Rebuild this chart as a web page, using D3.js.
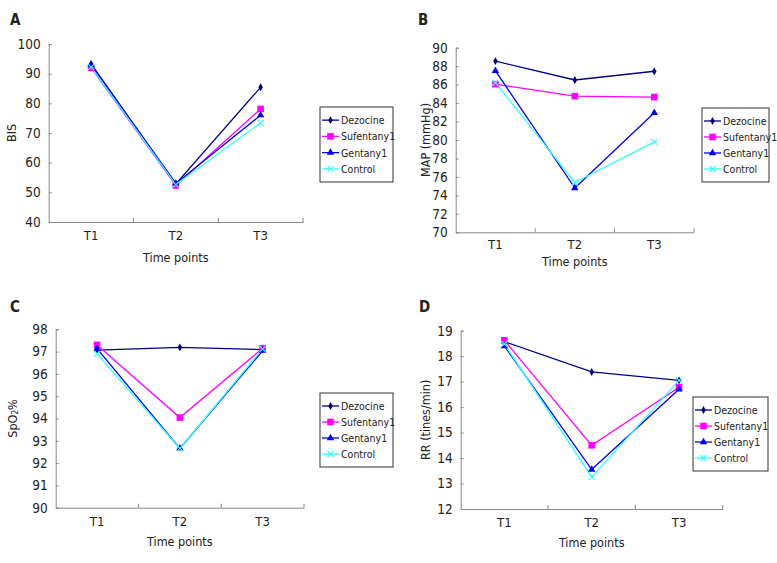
<!DOCTYPE html>
<html>
<head>
<meta charset="utf-8">
<script src="https://cdn.jsdelivr.net/npm/d3@7"></script>
<style>
  html, body { margin: 0; padding: 0; background: #fff; }
  svg { display: block; }
  text { font-family: "DejaVu Sans Condensed", "DejaVu Sans", sans-serif; fill: #222; }
</style>
</head>
<body>
<div id="chart"></div>
<script>
/* ── Data ─────────────────────────────────────────────────── */
const timePoints = ['T1', 'T2', 'T3'];
const groups = ['Dezocine', 'Sufentany1', 'Gentany1', 'Control'];

// A: BIS
const bisDezocine   = [93.3, 52.8, 85.4];
const bisSufentanyl = [92.0, 52.3, 78.1];
const bisGentanyl   = [93.0, 53.0, 76.0];
const bisControl    = [92.2, 52.6, 73.4];
const bisTicks      = [40, 50, 60, 70, 80, 90, 100];

// B: MAP (mmHg)
const mapDezocine   = [88.55, 86.5, 87.45];
const mapSufentanyl = [86.05, 84.75, 84.65];
const mapGentanyl   = [87.5, 74.8, 82.95];
const mapControl    = [86.2, 75.4, 79.8];
const mapTicks      = [70, 72, 74, 76, 78, 80, 82, 84, 86, 88, 90];

// C: SpO2 %
const spoDezocine   = [97.07, 97.19, 97.09];
const spoSufentanyl = [97.3, 94.04, 97.15];
const spoGentanyl   = [97.13, 92.66, 97.04];
const spoControl    = [96.9, 92.66, 97.12];
const spoTicks      = [90, 91, 92, 93, 94, 95, 96, 97, 98];

// D: RR (tines/min)
const rrDezocine    = [18.57, 17.38, 17.05];
const rrSufentanyl  = [18.62, 14.5, 16.78];
const rrGentanyl    = [18.4, 13.55, 16.7];
const rrControl     = [18.48, 13.25, 17.05];
const rrTicks       = [12, 13, 14, 15, 16, 17, 18, 19];

/* ── Styles per group ─────────────────────────────────────── */
const colors = ['#000080', '#ff00ff', '#0000ee', '#33ffff'];
const shapes = ['diamond', 'square', 'triangle', 'cross'];

const W = 777, H = 563;
const svg = d3.select('#chart').append('svg')
  .attr('width', W).attr('height', H);

const panels = [
  { letter: 'A', lx: 10, ly: 25, ylabel: 'BIS', ylx: 11,
    box: { l: 48.7, t: 44, r: 303, b: 222 }, domain: [40, 100], ticks: bisTicks,
    series: [bisDezocine, bisSufentanyl, bisGentanyl, bisControl],
    tickDy: 16, titleDy: 40, legend: { x: 320, y: 107, w: 73, h: 75 } },
  { letter: 'B', lx: 418, ly: 25, ylabel: 'MAP (mmHg)', ylx: 425,
    box: { l: 455.7, t: 47.7, r: 694, b: 232.3 }, domain: [70, 90], ticks: mapTicks,
    series: [mapDezocine, mapSufentanyl, mapGentanyl, mapControl],
    tickDy: 14, titleDy: 34, legend: { x: 702, y: 108, w: 67, h: 74 } },
  { letter: 'C', lx: 10, ly: 312, ylabel: 'SpO2%', ylx: 12,
    box: { l: 55.7, t: 329.3, r: 304, b: 507.7 }, domain: [90, 98], ticks: spoTicks,
    series: [spoDezocine, spoSufentanyl, spoGentanyl, spoControl],
    tickDy: 16, titleDy: 38, legend: { x: 320, y: 393, w: 73, h: 74 } },
  { letter: 'D', lx: 419, ly: 312, ylabel: 'RR (tines/min)', ylx: 425,
    box: { l: 460.7, t: 330.7, r: 722.7, b: 509 }, domain: [12, 19], ticks: rrTicks,
    series: [rrDezocine, rrSufentanyl, rrGentanyl, rrControl],
    tickDy: 16, titleDy: 38, legend: { x: 693, y: 397, w: 75, h: 74 } },
];

function marker(sel, shape, color) {
  if (shape === 'diamond') {
    sel.append('path').attr('d', d3.symbol(d3.symbolDiamond, 18)())
      .attr('fill', color);
  } else if (shape === 'square') {
    sel.append('rect').attr('x', -3.3).attr('y', -3.3)
      .attr('width', 6.6).attr('height', 6.6).attr('fill', color);
  } else if (shape === 'triangle') {
    sel.append('path').attr('d', d3.symbol(d3.symbolTriangle, 24)())
      .attr('fill', color);
  } else {
    sel.append('path').attr('d', 'M-3,-3L3,3M-3,3L3,-3')
      .attr('stroke', color).attr('stroke-width', 1.2).attr('fill', 'none');
  }
}

panels.forEach(p => {
  const { l, t, r, b } = p.box;
  const x = d3.scaleBand().domain(timePoints).range([l, r]);
  const y = d3.scaleLinear().domain(p.domain).range([b, t]);
  const g = svg.append('g');

  // panel letter
  g.append('text').attr('x', p.lx).attr('y', p.ly)
    .attr('font-family', '"Liberation Sans", Arial, sans-serif')
    .attr('font-weight', 'bold').attr('font-size', 15).text(p.letter);

  // y axis (ticks point inward)
  const yAx = g.append('g').attr('transform', `translate(${l},0)`)
    .call(d3.axisLeft(y).tickValues(p.ticks).tickFormat(d3.format('d'))
      .tickSize(-3).tickPadding(8));
  yAx.select('.domain').attr('stroke', '#888');
  yAx.selectAll('.tick line').attr('stroke', '#888');
  yAx.selectAll('.tick text').attr('font-size', 13.5).attr('fill', '#222')
    .attr('font-family', '"DejaVu Sans Condensed", "DejaVu Sans", sans-serif');

  // x axis: labels centred on bands, ticks at band boundaries
  const xAx = g.append('g').attr('transform', `translate(0,${b})`)
    .call(d3.axisBottom(x).tickSize(0).tickPadding(p.tickDy - 7));
  xAx.select('.domain').attr('stroke', '#888');
  xAx.selectAll('.tick text').attr('font-size', 13).attr('fill', '#222')
    .attr('font-family', '"DejaVu Sans Condensed", "DejaVu Sans", sans-serif');
  g.selectAll('.xb').data(timePoints).join('line')
    .attr('x1', d => x(d) + x.bandwidth()).attr('x2', d => x(d) + x.bandwidth())
    .attr('y1', b).attr('y2', b - 4).attr('stroke', '#888');

  // axis titles
  g.append('text').attr('x', (l + r) / 2).attr('y', b + p.titleDy)
    .attr('text-anchor', 'middle').attr('font-size', 12.5).text('Time points');

  const yl = g.append('text')
    .attr('transform', `translate(${p.ylx},${(t + b) / 2}) rotate(-90)`)
    .attr('text-anchor', 'middle').attr('dominant-baseline', 'central')
    .attr('font-size', 12.5);
  if (p.ylabel === 'SpO2%') {
    yl.append('tspan').text('SpO');
    yl.append('tspan').attr('font-size', 8).attr('dy', 3).text('2');
    yl.append('tspan').attr('dy', -3).text('%');
  } else {
    yl.text(p.ylabel);
  }

  // series lines + markers
  const line = d3.line()
    .x((d, i) => x(timePoints[i]) + x.bandwidth() / 2)
    .y(d => y(d));

  p.series.forEach((vals, si) => {
    g.append('path').datum(vals)
      .attr('d', line).attr('fill', 'none')
      .attr('stroke', colors[si]).attr('stroke-width', 1.3);
  });
  p.series.forEach((vals, si) => {
    vals.forEach((v, i) => {
      const m = g.append('g')
        .attr('transform', `translate(${x(timePoints[i]) + x.bandwidth() / 2},${y(v)})`);
      marker(m, shapes[si], colors[si]);
    });
  });

  // legend
  const L = p.legend;
  const lg = g.append('g').attr('transform', `translate(${L.x},${L.y})`);
  lg.append('rect').attr('width', L.w).attr('height', L.h)
    .attr('fill', '#fff').attr('stroke', '#333').attr('stroke-width', 1);
  const rowH = (L.h - 10) / groups.length;
  groups.forEach((name, i) => {
    const ry = 5 + rowH * (i + 0.5);
    lg.append('line').attr('x1', 2).attr('x2', 19).attr('y1', ry).attr('y2', ry)
      .attr('stroke', colors[i]).attr('stroke-width', 1.3);
    marker(lg.append('g').attr('transform', `translate(10.5,${ry})`), shapes[i], colors[i]);
    lg.append('text').attr('x', 21).attr('y', ry)
      .attr('dominant-baseline', 'central').attr('font-size', 10.5).text(name);
  });
});
</script>
</body>
</html>
